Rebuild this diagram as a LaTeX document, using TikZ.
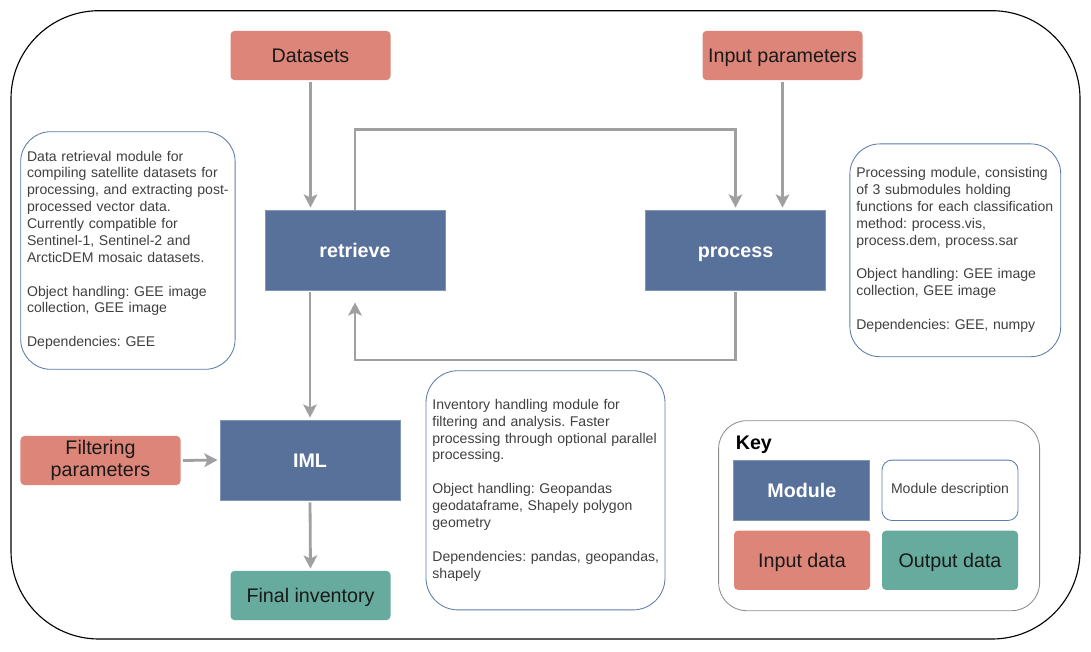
\documentclass[tikz,border=0pt]{standalone}
\usepackage{fontspec}
\setmainfont{Liberation Sans}
\usepackage{xcolor}
\usetikzlibrary{arrows.meta}
\frenchspacing

\definecolor{modfill}{HTML}{58719B}
\definecolor{infill}{HTML}{DD8578}
\definecolor{outfill}{HTML}{67AB9F}
\definecolor{descline}{HTML}{5B7BA8}
\definecolor{desctext}{HTML}{404040}
\definecolor{flowgray}{HTML}{A0A0A0}
\definecolor{keyline}{HTML}{8C8C8C}

\begin{document}
\begin{tikzpicture}[x=0.25mm, y=-0.25mm,
  module/.style={draw=modfill!75!white, line width=0.6pt, fill=modfill, text=white,
    font=\fontsize{14}{17}\selectfont\bfseries, minimum width=45mm, minimum height=20mm, inner sep=0pt,
    text height=10pt, text depth=0pt},
  indata/.style={fill=infill, rounded corners=1mm, text=black!90,
    font=\fontsize{14}{16}\selectfont, minimum width=40mm, minimum height=12.3mm, inner sep=0pt, align=center,
    text height=10pt, text depth=0pt},
  outdata/.style={indata, fill=outfill},
  desc/.style={draw=descline, line width=0.6pt, fill=white, rounded corners=7.5mm, text=desctext,
    font=\fontsize{10}{12}\selectfont, inner xsep=1.6mm, inner ysep=0pt, align=left},
  flow/.style={draw=flowgray, line width=2pt, -{Stealth[length=3.3mm, width=3.4mm, inset=0.8mm]},
    shorten <=0.5mm, shorten >=0.5mm}
]
\useasboundingbox (0,0) rectangle (1091,651);

% Outer frame
\draw[line width=0.8pt, rounded corners=22mm] (11,10.7) rectangle (1080,639);

% Input data
\node[indata] (datasets) at (310.5,55.5) {Datasets};
\node[indata] (inparams) at (782.5,55.5) {Input parameters};
\node[indata, text height={}, text depth={}] (filtering) at (100.5,460.5) {Filtering\\parameters};

% Modules
\node[module] (retrieve) at (355,250) {retrieve};
\node[module] (process) at (735.5,250) {process};
\node[module] (iml) at (310,460) {IML};

% Output data
\node[outdata] (final) at (310.5,595.5) {Final inventory};

% Module descriptions
\node[desc, minimum width=53.6mm, minimum height=59.4mm, text width=50.4mm] (descretrieve) at (127.9,250.5) {%
\noindent\begin{tabular}{@{}l@{}}
Data retrieval module for\\
compiling satellite datasets for\\
processing, and extracting post-\\
processed vector data.\\
Currently compatible for\\
Sentinel-1, Sentinel-2 and\\
ArcticDEM mosaic datasets.\\
\\
Object handling: GEE image\\
collection, GEE image\\
\\
Dependencies: GEE
\end{tabular}};

\node[desc, minimum width=52.7mm, minimum height=53.2mm, text width=49.5mm] (descprocess) at (955.3,250.3) {%
\noindent\begin{tabular}{@{}l@{}}
Processing module, consisting\\
of 3 submodules holding\\
functions for each classification\\
method: process.vis,\\
process.dem, process.sar\\
\\
Object handling: GEE image\\
collection, GEE image\\
\\
Dependencies: GEE, numpy
\end{tabular}};

\node[desc, rounded corners=8mm, minimum width=59.75mm, minimum height=59.8mm, text width=56.55mm] (desciml) at (545.5,490.3) {%
\noindent\begin{tabular}{@{}l@{}}
Inventory handling module for\\
filtering and analysis. Faster\\
processing through optional parallel\\
processing.\\
\\
Object handling: Geopandas\\
geodataframe, Shapely polygon\\
geometry\\
\\
Dependencies: pandas, geopandas,\\
shapely
\end{tabular}};

% Connectors
\draw[flow] (datasets.south) -- (datasets.south |- retrieve.north);
\draw[flow, shorten <=0pt] (retrieve.north) -- ++(0,-80) -| (process.north);
\draw[flow] (inparams.south) -- (inparams.south |- process.north);
\draw[flow, shorten >=3mm] (process.south) -- ++(0,69.5) -| (retrieve.south);
\draw[flow] (retrieve.south -| iml.north) -- (iml.north);
\draw[flow] (filtering.east) -- (iml.west);
\draw[flow] (iml.south) -- (final.north);

% Key
\node[draw=keyline, line width=0.6pt, rounded corners=7mm, minimum width=80.25mm, minimum height=47.5mm] (keybox) at (879.1,515.7) {};
\node[anchor=west, inner sep=0pt, font=\fontsize{14}{17}\selectfont\bfseries] (keytitle) at (735.5,445) {Key};
\node[module, minimum width=34mm, minimum height=15.1mm] (keymodule) at (801.8,490.3) {Module};
\node[draw=descline, line width=0.6pt, rounded corners=2.5mm, minimum width=34mm, minimum height=15.1mm,
  font=\fontsize{10}{12}\selectfont, text=desctext, inner sep=0pt] (keydesc) at (950,490.3) {Module description};
\node[indata, minimum width=34mm, minimum height=14.8mm] (keyinput) at (802,560.3) {Input data};
\node[outdata, minimum width=34mm, minimum height=14.8mm] (keyoutput) at (950,560.3) {Output data};
\end{tikzpicture}
\end{document}
